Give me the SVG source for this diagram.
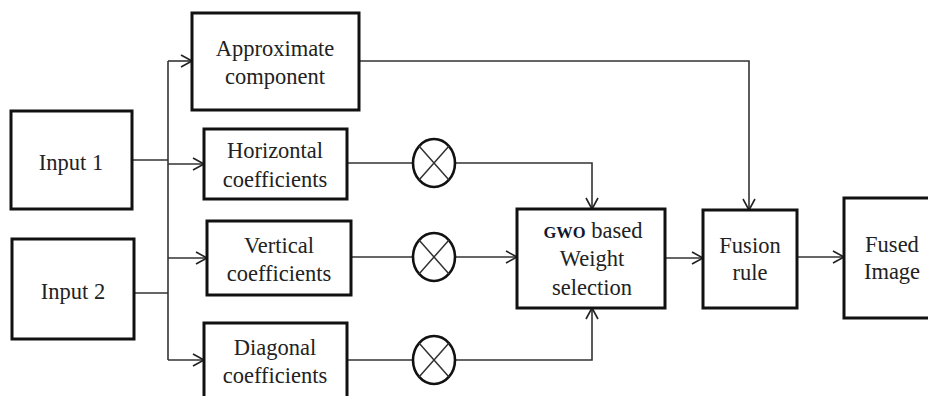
<svg xmlns="http://www.w3.org/2000/svg" width="928" height="396" viewBox="0 0 928 396">
<defs>
<marker id="arr" markerUnits="userSpaceOnUse" markerWidth="14" markerHeight="14" viewBox="0 0 14 14" refX="12" refY="7" orient="auto">
<path d="M1,1 L12,7 L1,13" fill="none" stroke="#222" stroke-width="1.6"/>
</marker>
<style>
.box{fill:#fff;stroke:#111;stroke-width:3}
.ln{fill:none;stroke:#333;stroke-width:1.6}
.circ{fill:#fff;stroke:#111;stroke-width:2.6}
.x{stroke:#333;stroke-width:1.5}
text{font-family:"Liberation Serif","Times New Roman",serif;font-size:22.5px;fill:#222;text-anchor:middle}
.gwo{font-weight:bold;font-size:16.5px;fill:#101830}
</style>
</defs>
<rect width="928" height="396" fill="#fff"/>
<g id="connectors">
<path class="ln" d="M132,160 H168"/>
<path class="ln" d="M134,293 H168"/>
<path class="ln" d="M168,61 V360"/>
<path class="ln" d="M168,61 H192" marker-end="url(#arr)"/>
<path class="ln" d="M168,164 H204" marker-end="url(#arr)"/>
<path class="ln" d="M168,258 H207" marker-end="url(#arr)"/>
<path class="ln" d="M168,360 H204" marker-end="url(#arr)"/>
<path class="ln" d="M347,163 H413"/>
<path class="ln" d="M455,163 H592 V209" marker-end="url(#arr)"/>
<path class="ln" d="M351,257 H413"/>
<path class="ln" d="M455,257 H517" marker-end="url(#arr)"/>
<path class="ln" d="M347,360 H413"/>
<path class="ln" d="M455,360 H592 V308" marker-end="url(#arr)"/>
<path class="ln" d="M359,61 H749 V210" marker-end="url(#arr)"/>
<path class="ln" d="M665,258 H703" marker-end="url(#arr)"/>
<path class="ln" d="M797,257 H844" marker-end="url(#arr)"/>
</g>
<g id="input1"><rect class="box" x="11" y="111" width="121" height="98"/><text x="71" y="170">Input 1</text></g>
<g id="input2"><rect class="box" x="12" y="239" width="122" height="100"/><text x="73" y="299">Input 2</text></g>
<g id="approx"><rect class="box" x="192" y="13" width="167" height="97"/><text x="275" y="56">Approximate</text><text x="275" y="84">component</text></g>
<g id="horizontal"><rect class="box" x="204" y="129" width="143" height="70"/><text x="275" y="158">Horizontal</text><text x="275" y="187">coefficients</text></g>
<g id="vertical"><rect class="box" x="207" y="221" width="144" height="74"/><text x="279" y="253">Vertical</text><text x="279" y="281">coefficients</text></g>
<g id="diagonal"><rect class="box" x="204" y="323" width="143" height="90"/><text x="275" y="355">Diagonal</text><text x="275" y="383">coefficients</text></g>
<g id="mult1"><ellipse class="circ" cx="434" cy="163" rx="21" ry="24"/><path class="x" d="M419,146 L449,180 M449,146 L419,180"/></g>
<g id="mult2"><ellipse class="circ" cx="434" cy="257" rx="21" ry="24"/><path class="x" d="M419,240 L449,274 M449,240 L419,274"/></g>
<g id="mult3"><ellipse class="circ" cx="434" cy="360" rx="21" ry="24"/><path class="x" d="M419,343 L449,377 M449,343 L419,377"/></g>
<g id="gwo"><rect class="box" x="517" y="209" width="148" height="99"/><text x="593" y="238"><tspan class="gwo">GWO</tspan> based</text><text x="592" y="266">Weight</text><text x="592" y="295">selection</text></g>
<g id="fusion"><rect class="box" x="703" y="210" width="94" height="98"/><text x="750" y="253">Fusion</text><text x="750" y="280">rule</text></g>
<g id="fused"><rect class="box" x="844" y="198" width="100" height="120"/><text x="892" y="252">Fused</text><text x="892" y="279">Image</text></g>
</svg>
